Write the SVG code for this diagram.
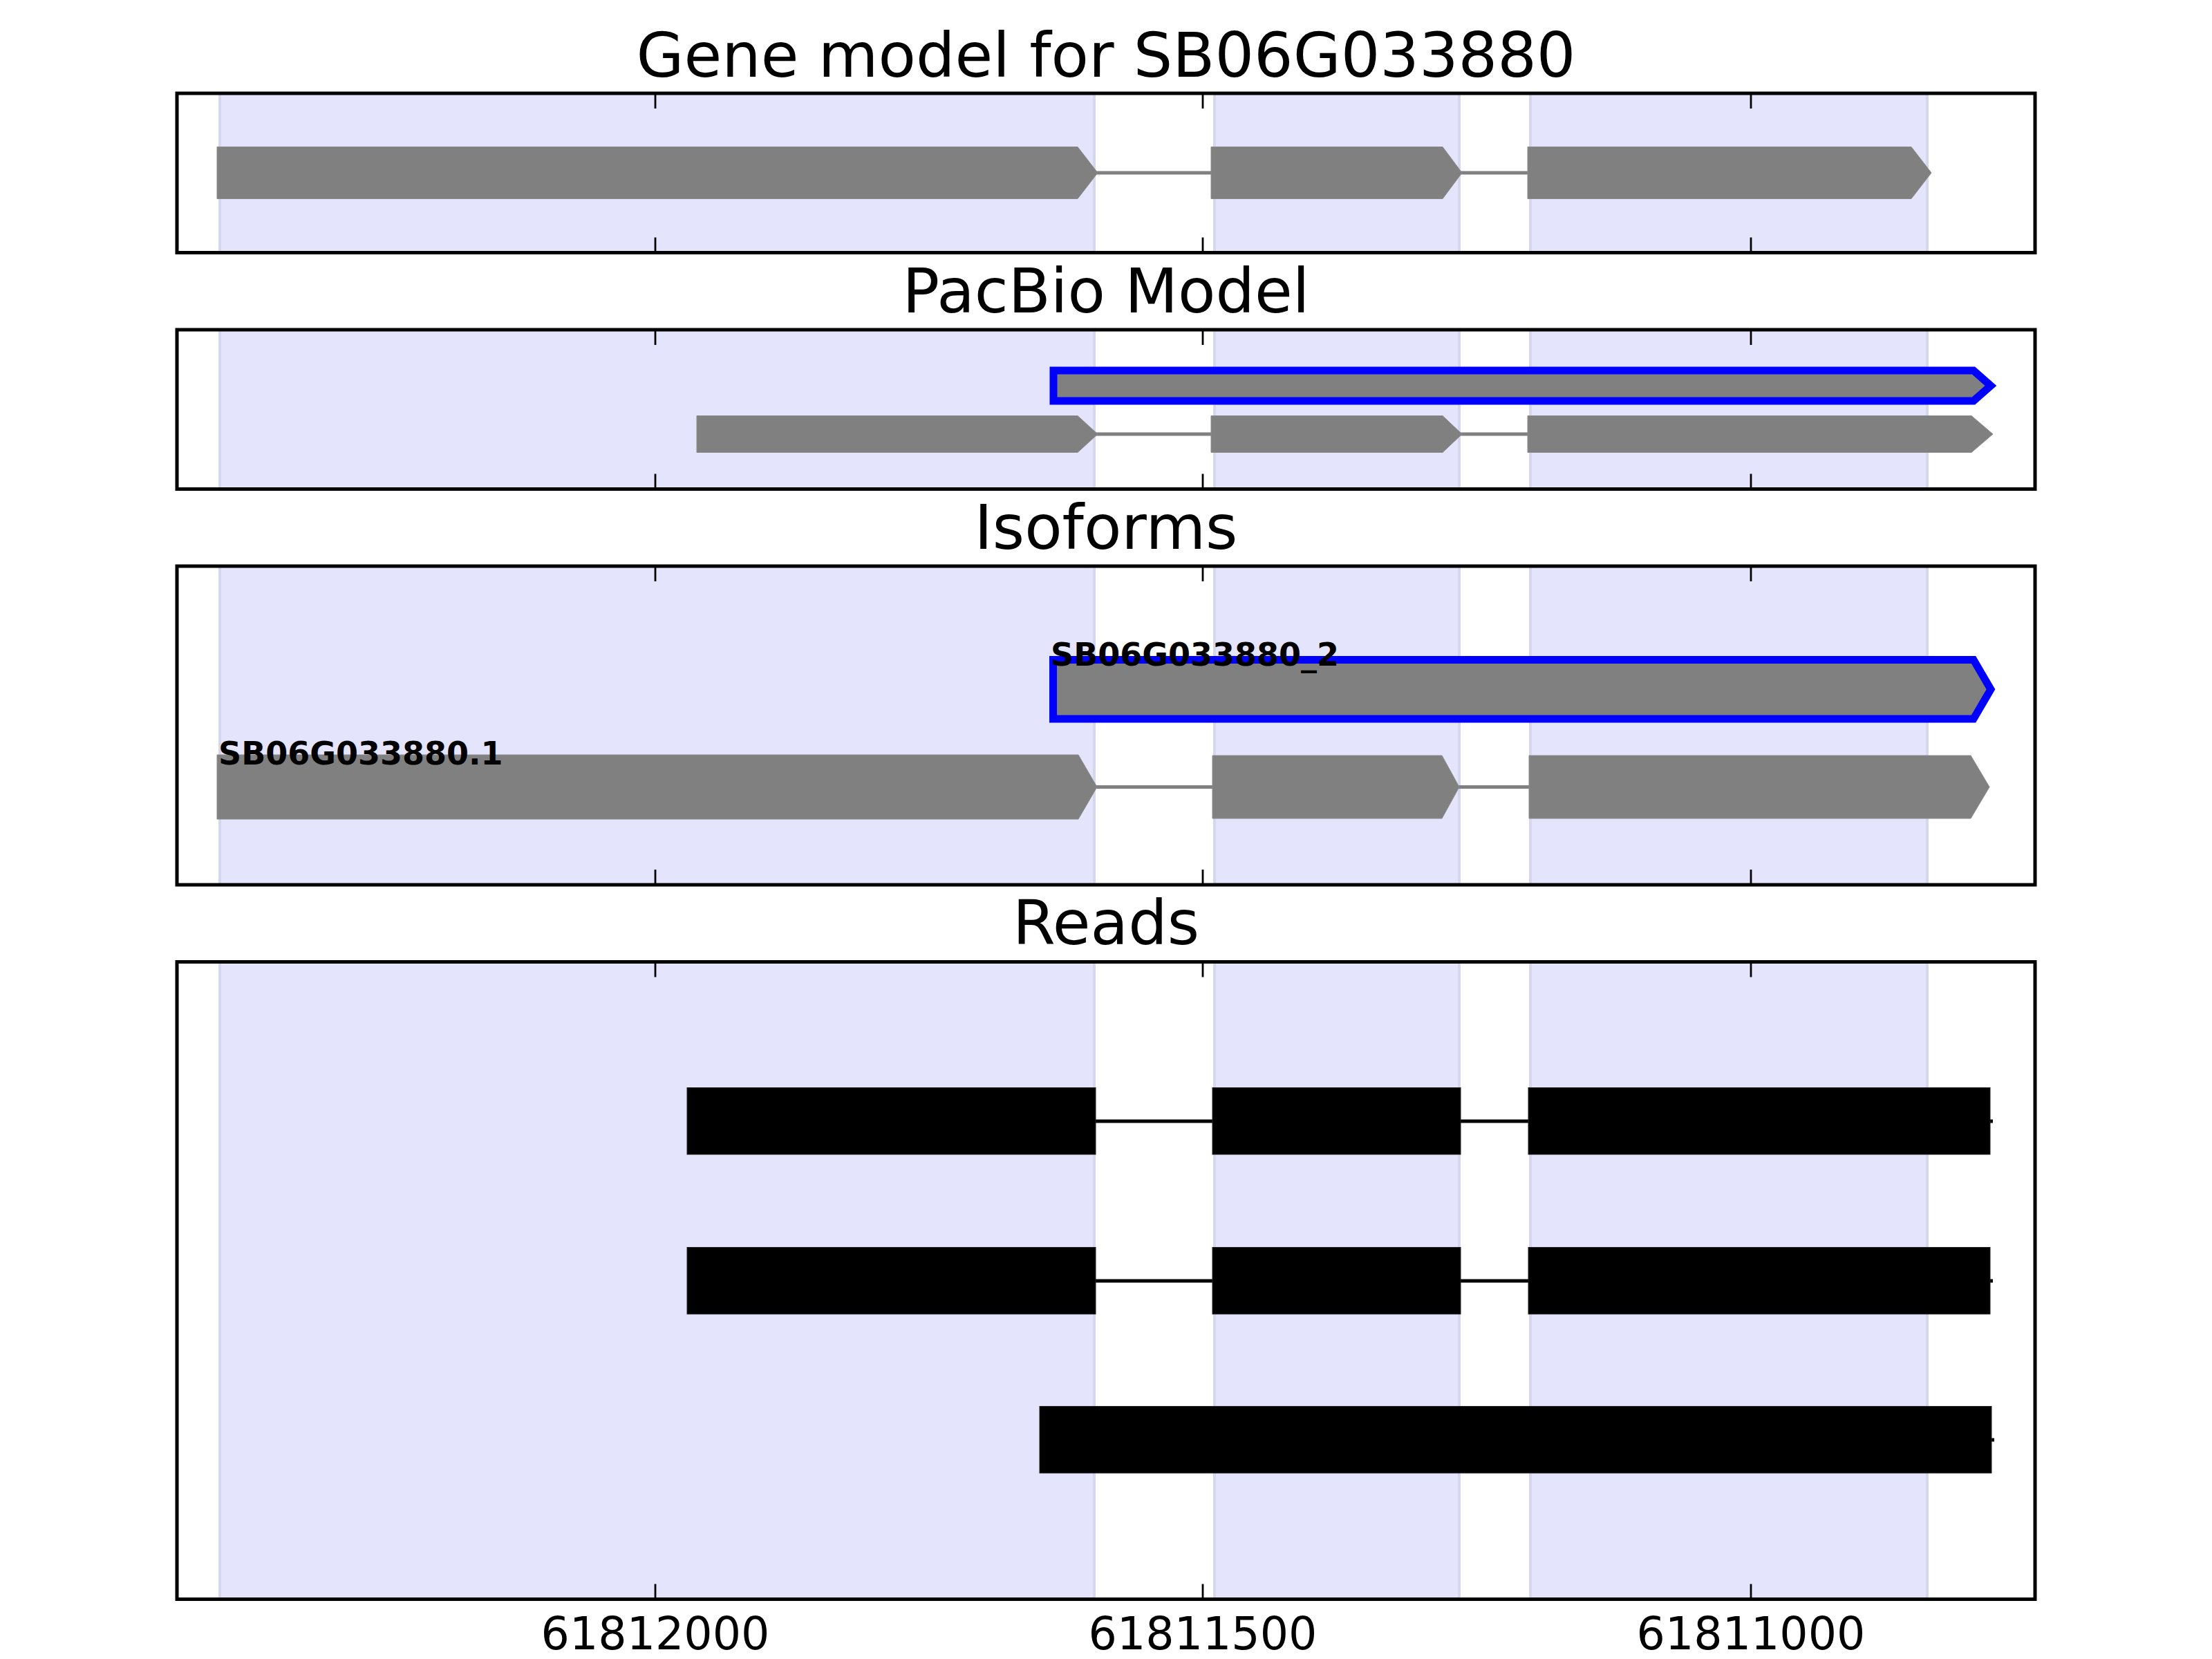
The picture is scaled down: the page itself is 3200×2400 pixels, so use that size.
<svg xmlns="http://www.w3.org/2000/svg" width="3200" height="2400" viewBox="0 0 3200 2400">
<style>
  .title { font-family: "DejaVu Sans", "Liberation Sans", sans-serif; font-size: 89px; fill: #000; text-anchor: middle; }
  .tick { font-family: "DejaVu Sans", "Liberation Sans", sans-serif; font-size: 65px; fill: #000; text-anchor: middle; }
  .lab { font-family: "DejaVu Sans", "Liberation Sans", sans-serif; font-size: 46px; font-weight: bold; fill: #000; }
  .span { fill: #e4e4fc; stroke: #d6d6ec; stroke-width: 4; }
  .frame { fill: none; stroke: #000; stroke-width: 5; }
  .tk { stroke: #000; stroke-width: 2.8; }
  .exon { fill: #808080; stroke: #8a8a8a; stroke-width: 1; }
  .sel { fill: #808080; stroke: #0000ff; stroke-width: 11; stroke-linejoin: miter; stroke-miterlimit: 10; }
  .intron { stroke: #808080; stroke-width: 5; fill: none; }
  .read { fill: #000; stroke: #222; stroke-width: 1; }
  .rintron { stroke: #000; stroke-width: 5; fill: none; }
</style>
<rect x="0" y="0" width="3200" height="2400" fill="#fff"/>

<!-- Panel 1: Gene model -->
<g id="panel-gene-model">
  <text class="title" x="1600" y="111">Gene model for SB06G033880</text>
  <g class="spans">
    <rect class="span" x="318" y="135" width="1265" height="230.5"/>
    <rect class="span" x="1757" y="135" width="354" height="230.5"/>
    <rect class="span" x="2214" y="135" width="574" height="230.5"/>
  </g>
  <g id="p1-introns">
    <line class="intron" x1="1586" y1="250" x2="2212" y2="250"/>
  </g>
  <g id="p1-gene">
    <path class="exon" d="M314,212.5 H1559 L1588,250 L1559,287.5 H314 Z"/>
    <path class="exon" d="M1752,212.5 H2087 L2115,250 L2087,287.5 H1752 Z"/>
    <path class="exon" d="M2210,212.5 H2765 L2794,250 L2765,287.5 H2210 Z"/>
  </g>
  <rect class="frame" x="256" y="135" width="2688" height="230.5"/>
  <g class="ticks">
    <line class="tk" x1="948" y1="135" x2="948" y2="157"/><line class="tk" x1="948" y1="365.5" x2="948" y2="343.5"/>
    <line class="tk" x1="1740" y1="135" x2="1740" y2="157"/><line class="tk" x1="1740" y1="365.5" x2="1740" y2="343.5"/>
    <line class="tk" x1="2533" y1="135" x2="2533" y2="157"/><line class="tk" x1="2533" y1="365.5" x2="2533" y2="343.5"/>
  </g>
</g>

<!-- Panel 2: PacBio Model -->
<g id="panel-pacbio">
  <text class="title" x="1600" y="452">PacBio Model</text>
  <g class="spans">
    <rect class="span" x="318" y="477" width="1265" height="230.5"/>
    <rect class="span" x="1757" y="477" width="354" height="230.5"/>
    <rect class="span" x="2214" y="477" width="574" height="230.5"/>
  </g>
  <g id="p2-selected">
    <path class="sel" d="M1524,536 H2855 L2880,558 L2855,580 H1524 Z"/>
  </g>
  <g id="p2-introns">
    <line class="intron" x1="1586" y1="628" x2="2212" y2="628"/>
  </g>
  <g id="p2-model">
    <path class="exon" d="M1008,601.5 H1559 L1588,628 L1559,654.5 H1008 Z"/>
    <path class="exon" d="M1752,601.5 H2087 L2115,628 L2087,654.5 H1752 Z"/>
    <path class="exon" d="M2210,601.5 H2852 L2883,628 L2852,654.5 H2210 Z"/>
  </g>
  <rect class="frame" x="256" y="477" width="2688" height="230.5"/>
  <g class="ticks">
    <line class="tk" x1="948" y1="477" x2="948" y2="499"/><line class="tk" x1="948" y1="707.5" x2="948" y2="685.5"/>
    <line class="tk" x1="1740" y1="477" x2="1740" y2="499"/><line class="tk" x1="1740" y1="707.5" x2="1740" y2="685.5"/>
    <line class="tk" x1="2533" y1="477" x2="2533" y2="499"/><line class="tk" x1="2533" y1="707.5" x2="2533" y2="685.5"/>
  </g>
</g>

<!-- Panel 3: Isoforms -->
<g id="panel-isoforms">
  <text class="title" x="1600" y="794">Isoforms</text>
  <g class="spans">
    <rect class="span" x="318" y="819" width="1265" height="461"/>
    <rect class="span" x="1757" y="819" width="354" height="461"/>
    <rect class="span" x="2214" y="819" width="574" height="461"/>
  </g>
  <g id="iso-2">
    <path class="sel" d="M1523.5,954.5 H2855 L2880,997.25 L2855,1040 H1523.5 Z"/>
    <text class="lab" x="1520" y="963">SB06G033880_2</text>
  </g>
  <g id="iso-1-introns">
    <line class="intron" x1="1585" y1="1138.5" x2="2214" y2="1138.5"/>
  </g>
  <g id="iso-1">
    <path class="exon" d="M314,1092 H1560 L1587,1138.5 L1560,1185 H314 Z"/>
    <path class="exon" d="M1754,1093 H2086 L2111,1138.5 L2086,1184 H1754 Z"/>
    <path class="exon" d="M2212,1093 H2851 L2878,1138.5 L2851,1184 H2212 Z"/>
    <text class="lab" x="316" y="1106">SB06G033880.1</text>
  </g>
  <rect class="frame" x="256" y="819" width="2688" height="461"/>
  <g class="ticks">
    <line class="tk" x1="948" y1="819" x2="948" y2="841"/><line class="tk" x1="948" y1="1280" x2="948" y2="1258"/>
    <line class="tk" x1="1740" y1="819" x2="1740" y2="841"/><line class="tk" x1="1740" y1="1280" x2="1740" y2="1258"/>
    <line class="tk" x1="2533" y1="819" x2="2533" y2="841"/><line class="tk" x1="2533" y1="1280" x2="2533" y2="1258"/>
  </g>
</g>

<!-- Panel 4: Reads -->
<g id="panel-reads">
  <text class="title" x="1600" y="1366">Reads</text>
  <g class="spans">
    <rect class="span" x="318" y="1391.5" width="1265" height="922"/>
    <rect class="span" x="1757" y="1391.5" width="354" height="922"/>
    <rect class="span" x="2214" y="1391.5" width="574" height="922"/>
  </g>
  <g id="connectors">
    <line class="rintron" x1="1585" y1="1622" x2="2883" y2="1622"/>
    <line class="rintron" x1="1585" y1="1853" x2="2883" y2="1853"/>
    <line class="rintron" x1="2870" y1="2083" x2="2885" y2="2083"/>
  </g>
  <g id="read-1">
    <rect class="read" x="994" y="1573.5" width="591" height="96.5"/>
    <rect class="read" x="1754" y="1573.5" width="359" height="96.5"/>
    <rect class="read" x="2211" y="1573.5" width="668" height="96.5"/>
  </g>
  <g id="read-2">
    <rect class="read" x="994" y="1804.5" width="591" height="96.5"/>
    <rect class="read" x="1754" y="1804.5" width="359" height="96.5"/>
    <rect class="read" x="2211" y="1804.5" width="668" height="96.5"/>
  </g>
  <g id="read-3">
    <rect class="read" x="1504" y="2034.5" width="1377" height="96.5"/>
  </g>
  <rect class="frame" x="256" y="1391.5" width="2688" height="922"/>
  <g class="ticks">
    <line class="tk" x1="948" y1="1391.5" x2="948" y2="1413.5"/><line class="tk" x1="948" y1="2313.5" x2="948" y2="2291.5"/>
    <line class="tk" x1="1740" y1="1391.5" x2="1740" y2="1413.5"/><line class="tk" x1="1740" y1="2313.5" x2="1740" y2="2291.5"/>
    <line class="tk" x1="2533" y1="1391.5" x2="2533" y2="1413.5"/><line class="tk" x1="2533" y1="2313.5" x2="2533" y2="2291.5"/>
  </g>
  <text class="tick" x="948" y="2386">61812000</text>
  <text class="tick" x="1740" y="2386">61811500</text>
  <text class="tick" x="2533" y="2386">61811000</text>
</g>
</svg>
